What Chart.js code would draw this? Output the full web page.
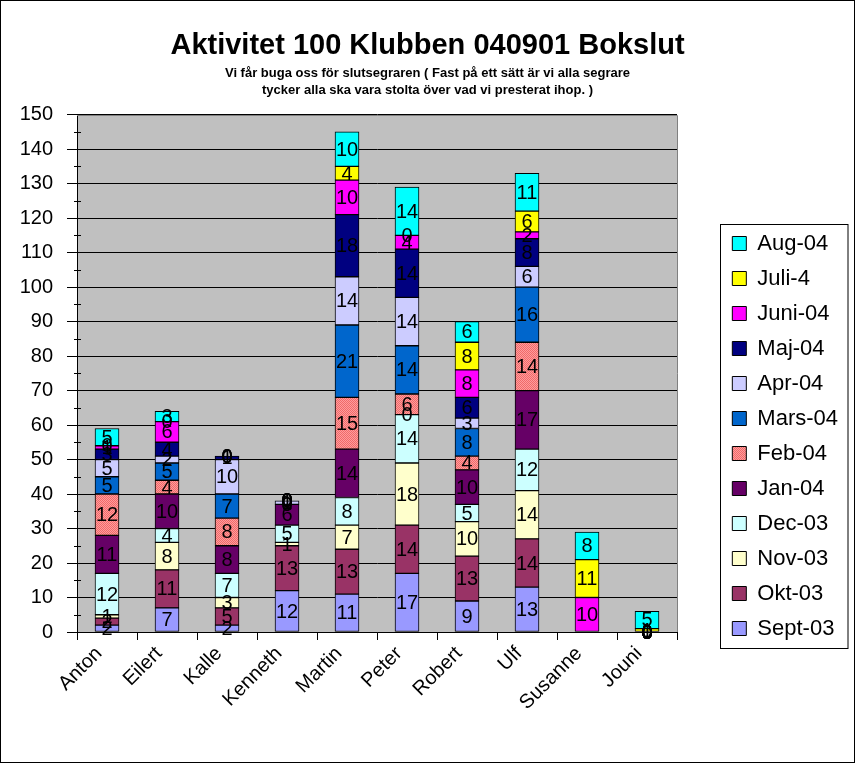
<!DOCTYPE html>
<html>
<head>
<meta charset="utf-8">
<title>Aktivitet 100 Klubben</title>
<script src="https://cdn.jsdelivr.net/npm/chart.js@4/dist/chart.umd.min.js"></script>
<style>
  html, body { margin: 0; padding: 0; background: #fff; }
  canvas { display: block; }
</style>
</head>
<body>
<canvas id="aktivitet" width="855" height="763"></canvas>
<script>
// members and monthly activity (Sept-03 .. Aug-04)
const names = ["Anton", "Eilert", "Kalle", "Kenneth", "Martin", "Peter", "Robert", "Ulf", "Susanne", "Jouni"];
const months = ["Sept-03", "Okt-03", "Nov-03", "Dec-03", "Jan-04", "Feb-04", "Mars-04", "Apr-04", "Maj-04", "Juni-04", "Juli-4", "Aug-04"];

const sept03 = [2, 7, 2, 12, 11, 17, 9, 13, null, 0];
const okt03  = [2, 11, 5, 13, 13, 14, 13, 14, null, 0];
const nov03  = [1, 8, 3, 1, 7, 18, 10, 14, null, 0];
const dec03  = [12, 4, 7, 5, 8, 14, 5, 12, null, 0];
const jan04  = [11, 10, 8, 6, 14, 0, 10, 17, null, 0];
const feb04  = [12, 4, 8, 0, 15, 6, 4, 14, null, 0];
const mars04 = [5, 5, 7, 0, 21, 14, 8, 16, null, 0];
const apr04  = [5, 2, 10, 1, 14, 14, 3, 6, null, 0];
const maj04  = [3, 4, 1, 0, 18, 14, 6, 8, null, 0];
const juni04 = [1, 6, 0, 0, 10, 4, 8, 2, 10, 0];
const juli04 = [0, 0, 0, 0, 4, 0, 8, 6, 11, 1];
const aug04  = [5, 3, 0, 0, 10, 14, 6, 11, 8, 5];

const series = [sept03, okt03, nov03, dec03, jan04, feb04, mars04, apr04, maj04, juni04, juli04, aug04];
const colors = ["#9999ff", "#993366", "#ffffcc", "#ccffff", "#660066", "feb", "#0066cc", "#ccccff", "#000080", "#ff00ff", "#ffff00", "#00ffff"];

// Excel's speckled salmon fill for Feb-04
function febFill() {
  const c = document.createElement("canvas");
  c.width = 2; c.height = 2;
  const g = c.getContext("2d");
  g.fillStyle = "#ff9c9c"; g.fillRect(0, 0, 2, 2);
  g.fillStyle = "#f06a6a"; g.fillRect(0, 0, 1, 1); g.fillRect(1, 1, 1, 1);
  return g.createPattern(c, "repeat");
}

Chart.defaults.font.family = "'Liberation Sans', Arial, sans-serif";
Chart.defaults.color = "#000";

const frame = {
  id: "frame",
  beforeDraw(chart) {
    const {ctx, chartArea: a} = chart;
    ctx.save();
    ctx.fillStyle = "#fff";
    ctx.fillRect(0, 0, chart.width, chart.height);
    ctx.fillStyle = "#c0c0c0";
    ctx.fillRect(a.left, a.top, a.right - a.left, a.bottom - a.top);
    ctx.restore();
  },
  beforeDatasetsDraw(chart) {
    const {ctx, chartArea: a} = chart;
    const y = chart.scales.y;
    ctx.save();
    ctx.strokeStyle = "#808080";
    ctx.lineWidth = 1;
    ctx.beginPath();
    ctx.moveTo(a.left, Math.round(a.top) + 0.5);
    ctx.lineTo(Math.round(a.right) + 0.5, Math.round(a.top) + 0.5);
    ctx.lineTo(Math.round(a.right) + 0.5, a.bottom);
    ctx.stroke();
    // minor ticks every 5
    ctx.strokeStyle = "#000";
    ctx.beginPath();
    for (let v = 5; v < 150; v += 10) {
      const py = Math.round(y.getPixelForValue(v)) + 0.5;
      ctx.moveTo(a.left - 3, py);
      ctx.lineTo(a.left + 4, py);
    }
    ctx.stroke();
    ctx.restore();
  },
  afterDatasetsDraw(chart) {
    const ctx = chart.ctx;
    ctx.save();
    ctx.font = "20px 'Liberation Sans', Arial, sans-serif";
    ctx.fillStyle = "#000";
    ctx.textAlign = "center";
    ctx.textBaseline = "middle";
    chart.data.datasets.forEach((ds, di) => {
      chart.getDatasetMeta(di).data.forEach((bar, i) => {
        const v = ds.data[i];
        if (v === null) return;
        ctx.fillText(String(v), bar.x, (bar.y + bar.base) / 2 + 1);
      });
    });
    ctx.restore();
  },
  afterDraw(chart) {
    const ctx = chart.ctx;
    const boxes = chart.legend.legendHitBoxes;
    let l = Infinity, t = Infinity, b = -Infinity;
    boxes.forEach(h => {
      l = Math.min(l, h.left);
      t = Math.min(t, h.top);
      b = Math.max(b, h.top + h.height);
    });
    const bx = Math.round(l - 12) + 0.5;
    ctx.save();
    ctx.strokeStyle = "#000";
    ctx.lineWidth = 1;
    ctx.strokeRect(bx, Math.round(t - 9) + 0.5, Math.round(chart.legend.right) - bx, Math.round(b - t + 17));
    ctx.strokeRect(0.5, 0.5, chart.width - 1, chart.height - 1);
    ctx.restore();
  }
};

const datasets = series.map((data, k) => ({
  label: months[k],
  data: data,
  backgroundColor: colors[k] === "feb" ? febFill() : colors[k],
  borderColor: "#000",
  borderWidth: 1,
  borderSkipped: false,
  barThickness: 24
}));

const myChart = new Chart("aktivitet", {
  type: "bar",
  data: { labels: names, datasets: datasets },
  plugins: [frame],
  options: {
    responsive: false,
    animation: false,
    layout: { padding: { left: 7, right: 7, top: 0, bottom: 7 } },
    plugins: {
      title: {
        display: true,
        text: "Aktivitet 100 Klubben 040901 Bokslut",
        font: { size: 29, weight: "bold" },
        padding: { top: 29, bottom: 0 }
      },
      subtitle: {
        display: true,
        text: ["Vi får buga oss för slutsegraren ( Fast på ett sätt är vi alla segrare",
               "tycker alla ska vara stolta över vad vi presterat ihop. )"],
        font: { size: 13, weight: "bold", lineHeight: 1.3 },
        padding: { top: 1, bottom: 16 }
      },
      legend: {
        position: "right",
        reverse: true,
        // empty title only pushes the item column down
        title: { display: true, text: " ", font: { size: 10 }, padding: { top: 52, bottom: 52 } },
        labels: {
          boxWidth: 14,
          boxHeight: 14,
          padding: 13,
          font: { size: 22 },
          color: "#000"
        }
      },
      tooltip: { enabled: false }
    },
    scales: {
      x: {
        stacked: true,
        grid: { display: true, drawOnChartArea: false, color: "#000", tickLength: 8, offset: true },
        border: { color: "#000" },
        ticks: { font: { size: 20 }, minRotation: 45, maxRotation: 45, labelOffset: -8, padding: 2, autoSkip: false },
        afterFit(s) { s.height = 124; }
      },
      y: {
        stacked: true,
        min: 0,
        max: 150,
        grid: { color: "#000", tickLength: 10 },
        border: { color: "#000" },
        ticks: { stepSize: 10, font: { size: 20 }, padding: 14 },
        afterFit(s) { s.width = 70; }
      },
      gap: {
        type: "linear",
        position: "right",
        display: true,
        grid: { display: false },
        border: { display: false },
        ticks: { display: false },
        afterFit(s) { s.width = s.chart.width - 7 - s.chart.legend.width - 677; }
      }
    }
  }
});
</script>
</body>
</html>
